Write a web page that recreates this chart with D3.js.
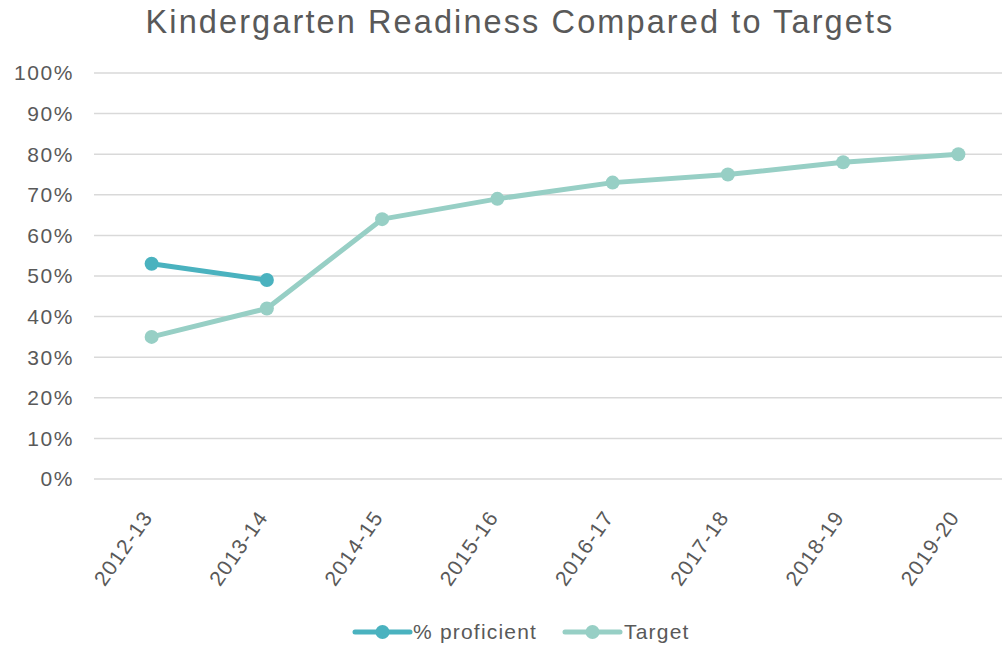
<!DOCTYPE html>
<html><head><meta charset="utf-8">
<script src="https://cdn.jsdelivr.net/npm/d3@7/dist/d3.min.js"></script>
<style>body{margin:0;background:#fff;}svg{display:block;}text{font-family:Arial,"Liberation Sans",Helvetica,sans-serif;}</style>
</head><body>
<svg id="c" width="1002" height="647"></svg>
<script>
const categories = ["2012-13","2013-14","2014-15","2015-16","2016-17","2017-18","2018-19","2019-20"];
const proficient = [53, 49, null, null, null, null, null, null];
const target = [35, 42, 64, 69, 73, 75, 78, 80];
const yTicks = [0,10,20,30,40,50,60,70,80,90,100];
const seriesNames = ["% proficient", "Target"];
const colors = ["#4AB2BF", "#97CFC5"];

const svg = d3.select("#c");
const x = d3.scaleBand().domain(categories).range([94, 1016]);
const y = d3.scaleLinear().domain([0,100]).range([479, 73]);
const cx = d => x(d) + x.bandwidth()/2;

svg.append("text").attr("x", 520).attr("y", 33).attr("text-anchor","middle")
  .attr("font-size", 32.5).attr("letter-spacing", 2.1).attr("fill","#595959")
  .text("Kindergarten Readiness Compared to Targets");

// gridlines
svg.append("g").selectAll("line").data(yTicks).join("line")
  .attr("x1", 94).attr("x2", 1002).attr("y1", d=>y(d)).attr("y2", d=>y(d))
  .attr("stroke", "#d9d9d9").attr("stroke-width", 1.5);

// y labels
svg.append("g").selectAll("text").data(yTicks).join("text")
  .attr("x", 74).attr("y", d=>y(d)).attr("dy","0.35em").attr("text-anchor","end")
  .attr("font-size", 21).attr("letter-spacing", 1.6).attr("fill","#595959").text(d=>d+"%");

// x labels
svg.append("g").selectAll("text").data(categories).join("text")
  .attr("transform", d=>`translate(${cx(d)-4},${513}) rotate(-55)`)
  .attr("text-anchor","end").attr("dy","0.35em")
  .attr("font-size", 21).attr("letter-spacing", 1.2).attr("fill","#595959").text(d=>d);

function drawSeries(vals, color){
  const data = categories.map((c,i)=>({c, v: vals[i]}));
  const line = d3.line().defined(d=>d.v!=null).x(d=>cx(d.c)).y(d=>y(d.v));
  svg.append("path").datum(data).attr("d", line).attr("fill","none")
    .attr("stroke", color).attr("stroke-width", 5).attr("stroke-linejoin","round").attr("stroke-linecap","round");
  svg.append("g").selectAll("circle").data(data.filter(d=>d.v!=null)).join("circle")
    .attr("cx", d=>cx(d.c)).attr("cy", d=>y(d.v)).attr("r", 7).attr("fill", color);
}
drawSeries(target, colors[1]);
drawSeries(proficient, colors[0]);

// legend
const leg = [{x:355, tx:413}, {x:565, tx:624}];
seriesNames.forEach((n,i)=>{
  const g = svg.append("g");
  g.append("line").attr("x1", leg[i].x).attr("x2", leg[i].x+55).attr("y1", 632).attr("y2", 632)
    .attr("stroke", colors[i]).attr("stroke-width", 5).attr("stroke-linecap","round");
  g.append("circle").attr("cx", leg[i].x+27.5).attr("cy", 632).attr("r", 7).attr("fill", colors[i]);
  g.append("text").attr("x", leg[i].tx).attr("y", 632).attr("dy","0.35em")
    .attr("font-size", 21).attr("letter-spacing", 1.2).attr("fill","#595959").text(n);
});
</script>
</body></html>
